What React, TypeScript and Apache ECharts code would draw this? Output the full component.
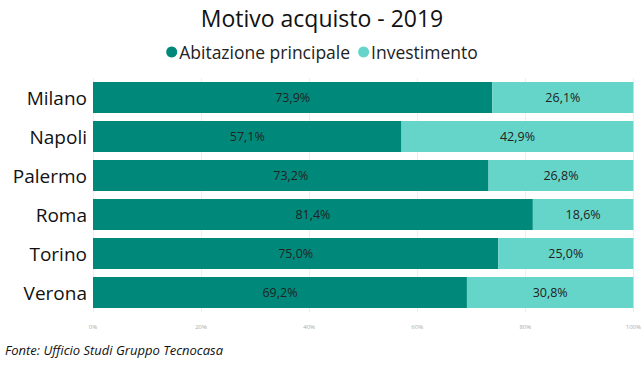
import React, { useEffect, useRef } from "react";
import * as echarts from "echarts";

const cities = ["Milano", "Napoli", "Palermo", "Roma", "Torino", "Verona"];
const abitazione = [73.9, 57.1, 73.2, 81.4, 75.0, 69.2];
const investimento = [26.1, 42.9, 26.8, 18.6, 25.0, 30.8];
const seriesNames = ["Abitazione principale", "Investimento"];
const xTicks = [0, 20, 40, 60, 80, 100];

const FONT = "'Open Sans', 'Noto Sans', sans-serif";

export default function App() {
  const ref = useRef<HTMLDivElement>(null);
  useEffect(() => {
    if (!ref.current) return;
    const chart = echarts.init(ref.current, undefined, { renderer: "svg" });
    const fmt = (p: any) => p.value.toFixed(1).replace(".", ",") + "%";
    chart.setOption({
      animation: false,
      textStyle: { fontFamily: FONT },
      title: {
        text: "Motivo acquisto - 2019",
        left: "center",
        top: 1,
        textStyle: { fontSize: 23, fontWeight: "normal", color: "#111", fontFamily: FONT },
      },
      legend: {
        top: 38,
        left: "center",
        icon: "circle",
        itemWidth: 11,
        itemHeight: 11,
        itemGap: 8,
        textStyle: { fontSize: 17.5, color: "#222", fontFamily: FONT, padding: [0, 0, 0, -3] },
        data: seriesNames,
      },
      grid: { left: 93, right: 8, top: 78, bottom: 55, containLabel: false },
      xAxis: {
        type: "value",
        min: xTicks[0],
        max: xTicks[xTicks.length - 1],
        interval: 20,
        axisLine: { show: false },
        axisTick: { show: false },
        splitLine: { show: true, lineStyle: { color: "#eeeeee", width: 1 } },
        axisLabel: { fontSize: 6, color: "#aaaaaa", formatter: "{value}%", margin: 12 },
      },
      yAxis: {
        type: "category",
        inverse: true,
        data: cities,
        axisLine: { show: false },
        axisTick: { show: false },
        axisLabel: { fontSize: 19, color: "#111", margin: 6, fontFamily: FONT },
      },
      series: [
        {
          name: seriesNames[0],
          type: "bar",
          stack: "t",
          data: abitazione,
          barCategoryGap: "21%",
          itemStyle: { color: "#00897b" },
          label: { show: true, position: "inside", formatter: fmt, fontSize: 12.5, color: "#222", fontFamily: FONT },
        },
        {
          name: seriesNames[1],
          type: "bar",
          stack: "t",
          data: investimento,
          barCategoryGap: "21%",
          itemStyle: { color: "#66d5c9" },
          label: { show: true, position: "inside", formatter: fmt, fontSize: 12.5, color: "#222", fontFamily: FONT },
        },
      ],
      graphic: [
        {
          type: "text",
          left: 5,
          top: 343,
          style: {
            text: "Fonte: Ufficio Studi Gruppo Tecnocasa",
            fontSize: 13,
            fontStyle: "italic",
            fill: "#111",
            fontFamily: FONT,
          },
        },
      ],
    });
    return () => chart.dispose();
  }, []);
  return <div ref={ref} style={{ width: 644, height: 367, position: "absolute", left: 0, top: 0 }} />;
}
